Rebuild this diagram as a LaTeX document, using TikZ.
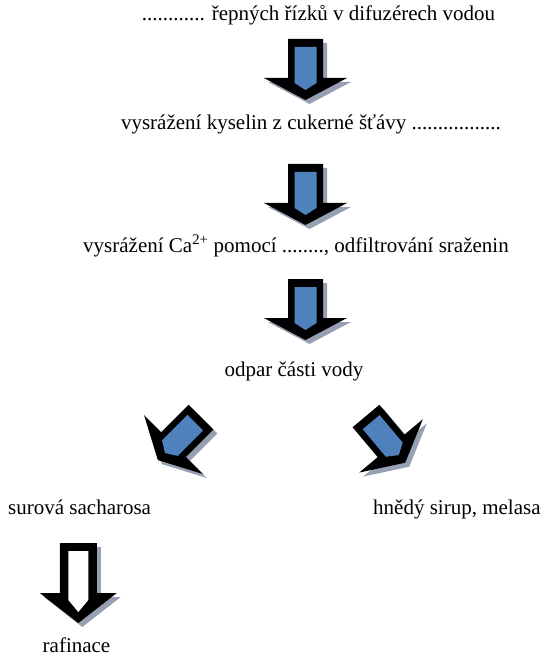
\documentclass[tikz,border=0pt]{standalone}
\usepackage{fontspec}
\setmainfont{Liberation Serif}
\usetikzlibrary{positioning}
\definecolor{arrblue}{RGB}{79,129,189}
\definecolor{arrshadow}{RGB}{150,160,178}

\begin{document}
\begin{tikzpicture}[x=1pt, y=-1pt, every node/.style={font=\fontsize{21}{25}\selectfont, inner sep=0pt}]
  \tikzset{
    % block arrow, tail centre at the origin, pointing down
    pics/bigarrow/.style={code={
      \fill[#1] (-17.5,0) -- (17.5,0) -- (17.5,39) -- (41.5,39) -- (0,61)
        -- (-41.5,39) -- (-17.5,39) -- cycle;
    }},
    pics/bigcore/.style={code={
      \fill[#1] (-11,8) -- (11,8) -- (11,44) -- (0,51) -- (-11,44) -- cycle;
    }},
    pics/openarrow/.style={code={
      \fill[#1] (-18.5,0) -- (18.5,0) -- (18.5,50) -- (38.5,50) -- (0,80)
        -- (-38.5,50) -- (-18.5,50) -- cycle;
    }},
    pics/opencore/.style={code={
      \fill[#1] (-10,8) -- (10,8) -- (10,57) -- (0,69) -- (-10,57) -- cycle;
    }}
  }
  \useasboundingbox (0,0) rectangle (547,660);

  % --- text steps ---
  \node[anchor=mid] (extr) at (318.5,18) {............ řepných řízků v difuzérech vodou};
  \node[anchor=mid] (acid) at (311,127) {vysrážení kyselin z cukerné šťávy .................};
  \node[anchor=mid] (calc) at (296,250) {vysrážení Ca\textsuperscript{2+} pomocí ........, odfiltrování sraženin};
  \node[anchor=mid] (evap) at (294,374) {odpar části vody};
  \node[anchor=mid west] (raw) at (8,512) {surová sacharosa};
  \node[anchor=mid west] (mol) at (373,512) {hnědý sirup, melasa};
  \node[anchor=mid] (refi) at (76.5,650) {rafinace};

  % --- vertical arrows ---
  \foreach \ty in {39,164,279} {
    \pic at (309.5,\ty+4) {bigarrow=arrshadow};
    \pic at (305.5,\ty) {bigarrow=black};
    \pic at (305.5,\ty) {bigcore=arrblue};
  }

  % --- split arrows ---
  \pic[rotate=-45] at (205,421) {bigarrow=arrshadow};
  \pic[rotate=-45] at (201,417) {bigarrow=black};
  \pic[rotate=-45] at (201,417) {bigcore=arrblue};
  \pic[rotate=40] at (370,420) {bigarrow=arrshadow};
  \pic[rotate=40] at (366,416) {bigarrow=black};
  \pic[rotate=40] at (366,416) {bigcore=arrblue};

  % --- last arrow (hollow) ---
  \pic at (82.3,547) {openarrow=arrshadow};
  \pic at (78.3,543) {openarrow=black};
  \pic at (78.3,543) {opencore=white};
\end{tikzpicture}
\end{document}
